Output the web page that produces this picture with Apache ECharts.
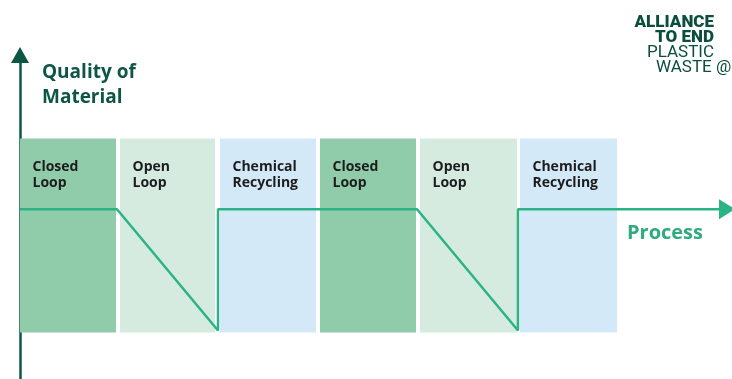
<!DOCTYPE html>
<html>
<head>
<meta charset="utf-8">
<script src="https://cdn.jsdelivr.net/npm/echarts@6/dist/echarts.min.js"></script>
<style>
  html, body { margin: 0; padding: 0; background: #ffffff; }
  #chart { width: 732px; height: 379px; }
</style>
</head>
<body>
<div id="chart"></div>
<script>
// Recycling stages along the process axis (one unit per stage)
const stageNames = ['Closed\nLoop', 'Open\nLoop', 'Chemical\nRecycling', 'Closed\nLoop', 'Open\nLoop', 'Chemical\nRecycling'];
const stageKinds = ['closed', 'open', 'chemical', 'closed', 'open', 'chemical'];
const stageStart = [0, 1, 2, 3, 4, 5];
const stageEnd = [0.96, 1.95, 2.96, 3.96, 4.97, 5.97];
const stageQualityTop = 10;

// Quality of material as the process runs
const processX = [0, 0.97, 1.98, 1.98, 3.97, 4.98, 4.98, 7.07];
const qualityY = [6.35, 6.35, 0.1, 6.35, 6.35, 0.1, 6.35, 6.35];

const kindColors = { closed: '#90cca9', open: '#d6ebe0', chemical: '#d4e9f8' };
const darkGreen = '#0d5646';
const lineGreen = '#2bb385';
const logoGreen = '#0c4e3d';
const fontFamily = '"Open Sans", "Noto Sans", sans-serif';
const logoFont = 'Roboto, "Open Sans", sans-serif';

const bandData = stageNames.map((name, i) => [stageStart[i], stageEnd[i], name, stageKinds[i]]);
const lineData = processX.map((x, i) => {
  const pt = { value: [x, qualityY[i]] };
  if (i === processX.length - 1) {
    pt.symbol = 'triangle';
    pt.symbolSize = [20, 16];
    pt.symbolRotate = -90;
    pt.itemStyle = { color: lineGreen };
  }
  return pt;
});

const chart = echarts.init(document.getElementById('chart'), null, { renderer: 'canvas' });
chart.setOption({
  animation: false,
  backgroundColor: '#ffffff',
  grid: { left: 20, right: 0, top: 55, bottom: 0 },
  xAxis: {
    type: 'value', min: 0, max: 7.12,
    show: false
  },
  yAxis: {
    type: 'value', min: -2.4, max: 14.3,
    axisLine: {
      show: true,
      symbol: ['none', 'triangle'],
      symbolSize: [18, 16],
      lineStyle: { color: darkGreen, width: 2.5 }
    },
    axisTick: { show: false },
    axisLabel: { show: false },
    splitLine: { show: false }
  },
  series: [
    {
      type: 'custom',
      data: bandData,
      clip: false,
      renderItem: function (params, api) {
        const p0 = api.coord([api.value(0), stageQualityTop]);
        const p1 = api.coord([api.value(1), 0]);
        const kind = bandData[params.dataIndex][3];
        return {
          type: 'group',
          children: [
            {
              type: 'rect',
              shape: { x: p0[0], y: p0[1], width: p1[0] - p0[0], height: p1[1] - p0[1] },
              style: { fill: kindColors[kind] }
            },
            {
              type: 'text',
              x: p0[0] + 12.5,
              y: p0[1] + 21,
              style: {
                text: bandData[params.dataIndex][2],
                fill: '#1c1c1c',
                font: 'bold 14px ' + fontFamily,
                lineHeight: 15.5
              }
            }
          ]
        };
      },
      z: 1
    },
    {
      type: 'line',
      data: lineData,
      showSymbol: true,
      symbol: 'none',
      clip: false,
      lineStyle: { color: lineGreen, width: 2.5 },
      z: 3
    }
  ],
  graphic: [
    {
      type: 'text', x: 42, y: 60,
      style: { text: 'Quality of\nMaterial', fill: darkGreen, font: 'bold 19px ' + fontFamily, lineHeight: 25 }
    },
    {
      type: 'text', x: 627, y: 223,
      style: { text: 'Process', fill: '#2eac7e', font: 'bold 20px ' + fontFamily }
    },
    {
      type: 'text', x: 714, y: 31,
      style: { text: 'ALLIANCE', fill: logoGreen, font: '900 17px ' + logoFont, align: 'right', verticalAlign: 'bottom' }
    },
    {
      type: 'text', x: 714, y: 46,
      style: { text: 'TO END', fill: logoGreen, font: '900 17px ' + logoFont, align: 'right', verticalAlign: 'bottom' }
    },
    {
      type: 'text', x: 714, y: 61,
      style: { text: 'PLASTIC', fill: logoGreen, font: '17px ' + logoFont, align: 'right', verticalAlign: 'bottom' }
    },
    {
      type: 'text', x: 656, y: 76,
      style: { text: 'WASTE @', fill: logoGreen, font: '17px ' + logoFont, verticalAlign: 'bottom' }
    }
  ]
});
</script>
</body>
</html>
